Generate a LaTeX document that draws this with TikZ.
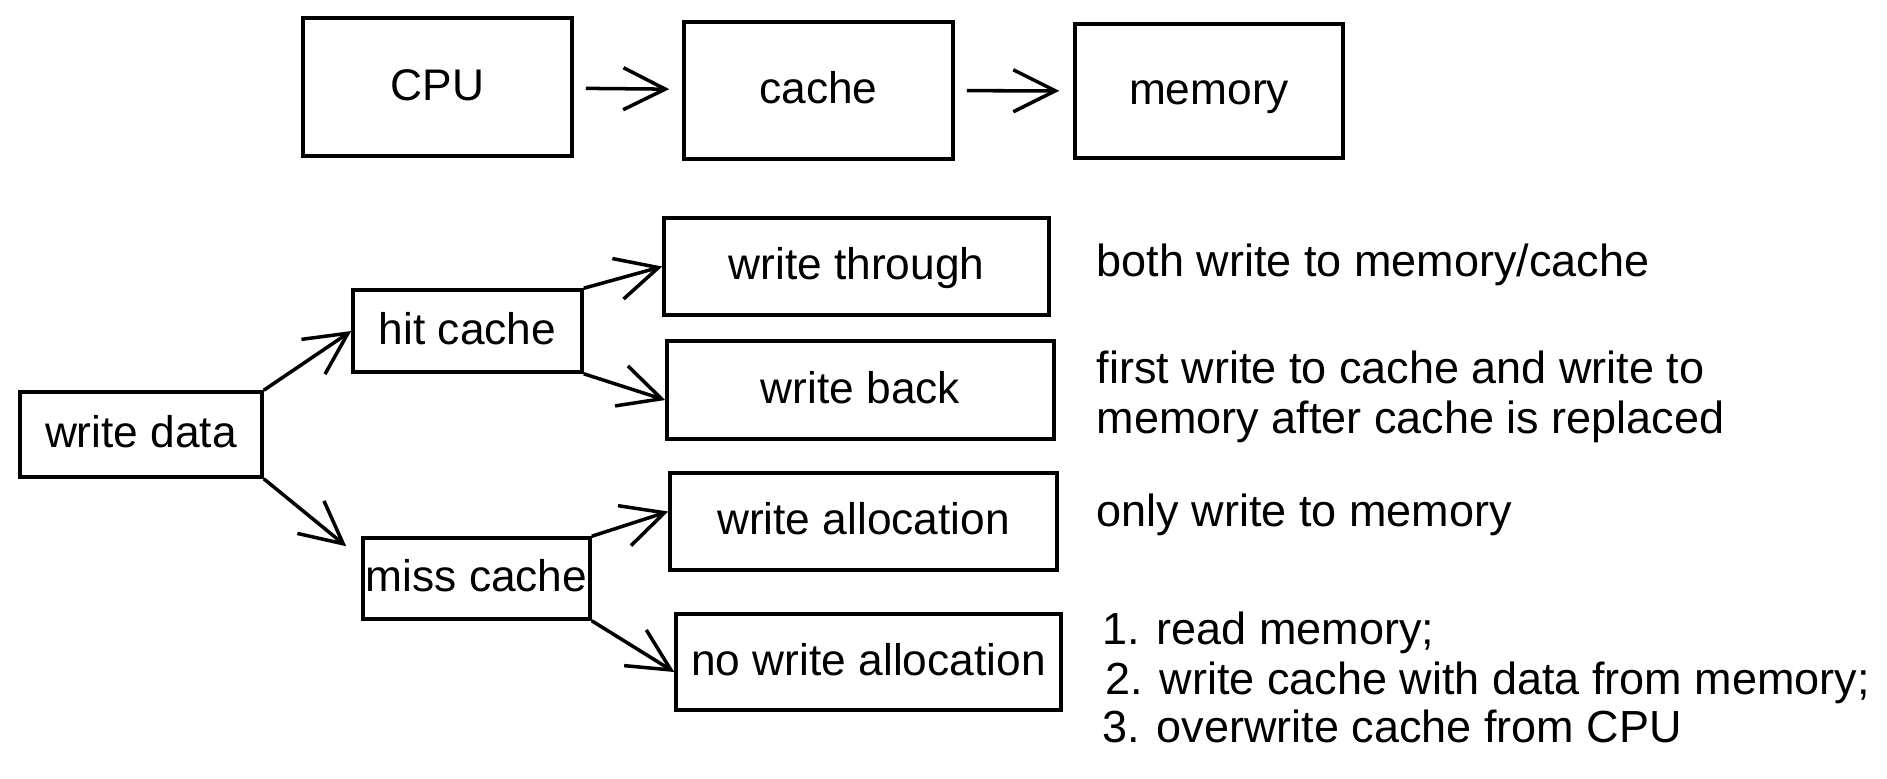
\documentclass[tikz,border=0pt]{standalone}
\usepackage{fontspec}
\setmainfont{Liberation Sans}
\usetikzlibrary{arrows.meta}

\begin{document}
\begin{tikzpicture}[
    box/.style={draw,line width=1pt,inner sep=0pt,text height=9pt,text depth=1.6pt,
      font=\fontsize{12.6}{14.2}\selectfont},
    note/.style={anchor=base west,inner sep=0pt,font=\fontsize{12.8}{14.2}\selectfont},
    arr/.style={-{Straight Barb[length=4.2mm,width=4.2mm]},line width=1pt}
  ]
      \useasboundingbox (0,0) rectangle (18.87,-7.78);
      % top row
      \draw
        (4.375,-0.87) node[box,minimum width=2.69cm,minimum height=1.38cm] (cpu){CPU}
        (8.185,-0.905) node[box,minimum width=2.69cm,minimum height=1.37cm] (cache){cache}
        (12.09,-0.91) node[box,minimum width=2.68cm,minimum height=1.34cm] (mem){memory};
      % write policy tree
      \draw
        (1.41,-4.345) node[box,minimum width=2.42cm,minimum height=0.85cm] (wdata){write data}
        (4.675,-3.31) node[box,minimum width=2.29cm,minimum height=0.82cm] (hit){hit cache}
        (4.765,-5.785) node[box,minimum width=2.27cm,minimum height=0.81cm] (miss){miss cache}
        (8.565,-2.665) node[box,minimum width=3.85cm,minimum height=0.97cm] (wthru){write through}
        (8.605,-3.90) node[box,minimum width=3.87cm,minimum height=0.98cm] (wback){write back}
        (8.635,-5.215) node[box,minimum width=3.87cm,minimum height=0.97cm] (walloc){write allocation}
        (8.685,-6.62) node[box,minimum width=3.85cm,minimum height=0.96cm] (nowalloc){no write allocation};
      \begin{scope}[arr]
        \draw[shorten <=1.2mm,shorten >=1.3mm] (cpu) -- (cache);
        \draw[shorten <=1.2mm,shorten >=1.4mm] (cache) -- (mem);
        \draw (wdata.north east) -- (hit.west);
        \draw (wdata.south east) -- ([xshift=-1.5mm,yshift=-1mm]miss.north west);
        \draw (hit.north east) -- (wthru.west);
        \draw (hit.south east) -- ([yshift=-1mm]wback.west);
        \draw (miss.north east) -- ([yshift=1mm]walloc.west);
        \draw (miss.south east) -- ([yshift=-1mm]nowalloc.west);
      \end{scope}
      % notes
      \node[note] (thrutxt) at (10.96,-2.76) {both write to memory/cache};
      \node[note] (backtxt1) at (10.96,-3.83) {first write to cache and write to};
      \node[note] (backtxt2) at (10.96,-4.33) {memory after cache is replaced};
      \node[note] (alloctxt) at (10.96,-5.26) {only write to memory};
      \node[note] (noalloc1) at (11.02,-6.44) {1. read memory;};
      \node[note] (noalloc2) at (11.05,-6.94) {2. write cache with data from memory;};
      \node[note] (noalloc3) at (11.02,-7.42) {3. overwrite cache from CPU};
    \end{tikzpicture}
\end{document}
